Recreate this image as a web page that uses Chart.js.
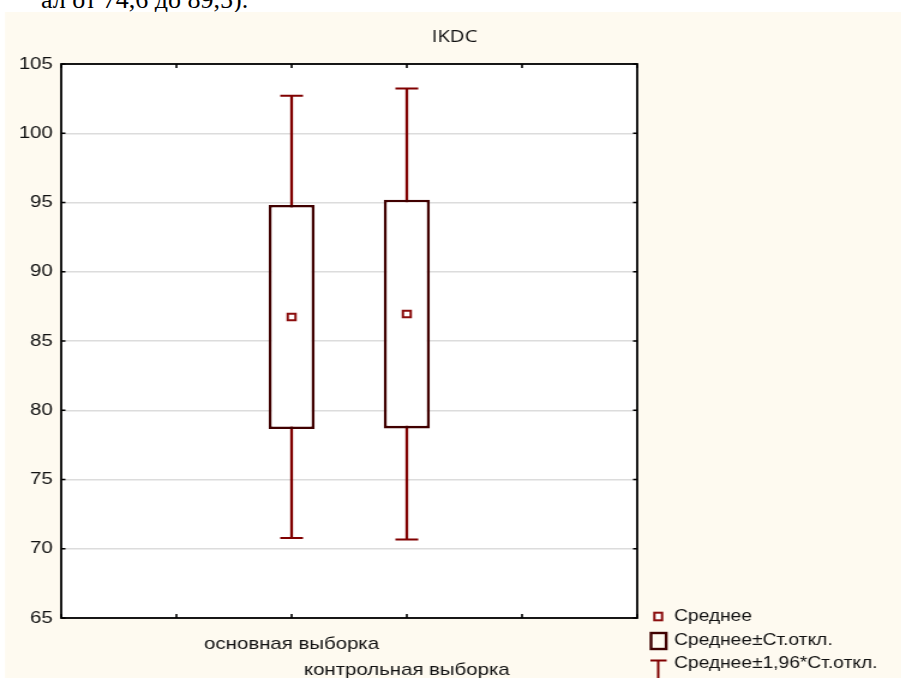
<!DOCTYPE html>
<html>
<head>
<meta charset="utf-8">
<script src="https://cdn.jsdelivr.net/npm/chart.js@4"></script>
<style>
html,body{margin:0;padding:0;background:#fff;overflow:hidden;width:901px;height:678px}
#cut{position:absolute;left:0;top:-13px;font:26px/1 "Liberation Serif",serif;color:#000;white-space:nowrap}
#wrap{position:absolute;left:0;top:0;transform:scaleX(1.2);transform-origin:0 0}
</style>
</head>
<body>
<div id="cut">ал от 74,6 до 89,5).</div>
<div id="wrap"><canvas id="c" width="751" height="678"></canvas></div>
<script>
// данные
const categories = ['основная выборка', 'контрольная выборка'];
const means = [86.73, 86.95];
const boxLow = [78.64, 78.69];     // среднее - ст.откл.
const boxHigh = [94.82, 95.20];    // среднее + ст.откл.
const whiskLow = [70.77, 70.67];   // среднее - 1,96*ст.откл.
const whiskHigh = [102.71, 103.24];// среднее + 1,96*ст.откл.
const yTicks = [65, 70, 75, 80, 85, 90, 95, 100, 105];
const legendTexts = ['Среднее', 'Среднее±Ст.откл.', 'Среднее±1,96*Ст.откл.'];
const chartTitle = 'IKDC';

// подгоняем обрезанную строку текста сверху
const cut = document.getElementById('cut');
cut.style.left = (248 - cut.offsetWidth) + 'px';

const cream = '#fefaf0', boxColor = '#400000', whiskColor = '#800000', meanColor = '#8b0d0d';

// две пустые позиции слева и справа, как у Statistica
const labels = ['', '', ...categories, '', ''];
const pad = a => [null, null, ...a, null, null];
const boxData = pad(categories.map((c, i) => [boxLow[i], boxHigh[i]]));

const decor = {
  id: 'decor',
  beforeDraw(chart){
    const {ctx, chartArea:a} = chart;
    ctx.save();
    ctx.fillStyle = cream;
    ctx.fillRect(4.2, 12, chart.width, chart.height);
    ctx.fillStyle = '#fff';
    ctx.fillRect(a.left, a.top, a.right - a.left, a.bottom - a.top);
    ctx.restore();
  },
  beforeDatasetsDraw(chart){
    // усы рисуем до боксов, боксы их перекроют
    const {ctx, scales:{x, y}} = chart;
    ctx.save();
    ctx.strokeStyle = whiskColor;
    categories.forEach((c, i) => {
      const px = x.getPixelForValue(labels.indexOf(c));
      const y1 = y.getPixelForValue(whiskHigh[i]), y2 = y.getPixelForValue(whiskLow[i]);
      ctx.lineWidth = 2.3;
      ctx.beginPath(); ctx.moveTo(px, y1); ctx.lineTo(px, y2); ctx.stroke();
      ctx.lineWidth = 2;
      ctx.beginPath();
      ctx.moveTo(px - 9.5, y1); ctx.lineTo(px + 9.5, y1);
      ctx.moveTo(px - 9.5, y2); ctx.lineTo(px + 9.5, y2);
      ctx.stroke();
    });
    ctx.restore();
  },
  afterDraw(chart){
    const {ctx, chartArea:a, scales:{x, y}} = chart;
    ctx.save();
    // рамка
    ctx.strokeStyle = '#000';
    ctx.lineWidth = 1.8;
    ctx.strokeRect(a.left, a.top, a.right - a.left, a.bottom - a.top);
    // внутренние засечки
    ctx.lineWidth = 1.6;
    ctx.beginPath();
    labels.forEach((l, i) => {
      const px = x.getPixelForValue(i);
      ctx.moveTo(px, a.bottom); ctx.lineTo(px, a.bottom - 4);
      ctx.moveTo(px, a.top); ctx.lineTo(px, a.top + 4);
    });
    yTicks.forEach(v => {
      const py = y.getPixelForValue(v);
      ctx.moveTo(a.left, py); ctx.lineTo(a.left + 3.5, py);
      ctx.moveTo(a.right, py); ctx.lineTo(a.right - 3.5, py);
    });
    ctx.stroke();
    // заголовок
    ctx.fillStyle = '#111';
    ctx.font = '17px "Open Sans"';
    ctx.textAlign = 'center';
    ctx.textBaseline = 'middle';
    ctx.fillText(chartTitle, 378.75, 37.5);
    // легенда
    const lx = 548.5, tx = 561.7, ly = [616.5, 641, 663.5];
    ctx.strokeStyle = meanColor; ctx.fillStyle = '#fff'; ctx.lineWidth = 2;
    ctx.fillRect(lx - 3.2, ly[0] - 3.8, 6.4, 7.6);
    ctx.strokeRect(lx - 3.2, ly[0] - 3.8, 6.4, 7.6);
    ctx.strokeStyle = boxColor; ctx.lineWidth = 2.4;
    ctx.strokeRect(542.5, 633, 12.6, 16);
    ctx.strokeStyle = whiskColor; ctx.lineWidth = 2;
    ctx.beginPath();
    ctx.moveTo(542, 660.5); ctx.lineTo(555.5, 660.5);
    ctx.moveTo(lx, 660.5); ctx.lineTo(lx, 690);
    ctx.stroke();
    ctx.fillStyle = '#111';
    ctx.font = '16px "Liberation Sans"';
    ctx.textAlign = 'left';
    legendTexts.forEach((t, i) => ctx.fillText(t, tx, ly[i]));
    ctx.restore();
  }
};

Chart.defaults.font.family = '"Liberation Sans", Arial, sans-serif';
Chart.defaults.color = '#111';

new Chart(document.getElementById('c'), {
  type: 'bar',
  data: {
    labels: labels,
    datasets: [
      {
        type: 'line',
        label: legendTexts[0],
        data: pad(means),
        showLine: false,
        pointStyle: 'rect',
        pointRadius: 4.6,
        pointBorderWidth: 2,
        pointBorderColor: meanColor,
        pointBackgroundColor: '#fff'
      },
      {
        label: legendTexts[1],
        data: boxData,
        backgroundColor: '#fff',
        borderColor: boxColor,
        borderWidth: 2.6,
        borderSkipped: false,
        barPercentage: 0.4,
        categoryPercentage: 1
      }
    ]
  },
  options: {
    responsive: false,
    animation: false,
    layout: {padding: {left: 8, right: 220, top: 64, bottom: 0}},
    plugins: {legend: {display: false}, tooltip: {enabled: false}},
    scales: {
      x: {
        type: 'category',
        offset: false,
        grid: {display: false},
        border: {display: false},
        afterFit: s => { s.height = 60; },
        ticks: {
          autoSkip: false,
          maxRotation: 0,
          minRotation: 0,
          padding: 5,
          color: '#111',
          font: {size: 17, lineHeight: 26 / 17},
          callback: function(v){
            const l = this.getLabelForValue(v);
            const k = categories.indexOf(l);
            if (k < 0) return '';
            return k % 2 === 0 ? [l, ''] : ['', l];
          }
        }
      },
      y: {
        min: 65,
        max: 105,
        afterFit: s => { s.width = 43; },
        afterBuildTicks: s => { s.ticks = yTicks.map(v => ({value: v})); },
        grid: {color: '#dcdcdc', lineWidth: 1.5, drawTicks: false},
        border: {display: false},
        ticks: {padding: 7, color: '#111', font: {size: 17}}
      }
    }
  },
  plugins: [decor]
});
</script>
</body>
</html>
